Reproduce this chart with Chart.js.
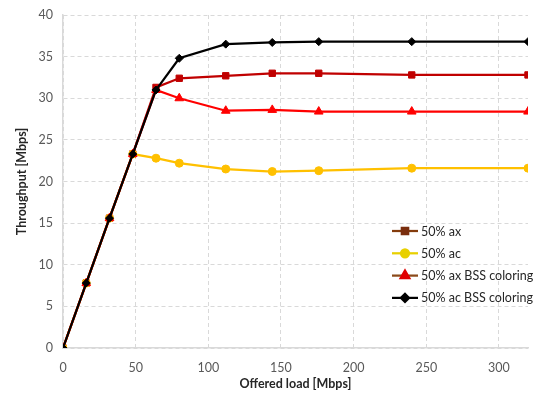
<!DOCTYPE html>
<html>
<head>
<meta charset="utf-8">
<script src="https://cdn.jsdelivr.net/npm/chart.js@4"></script>
<style>
  html, body { margin: 0; padding: 0; background: #fff; }
  #wrap { width: 550px; height: 397px; }
</style>
</head>
<body>
<div id="wrap"><canvas id="grafico"></canvas></div>
<script>
// dados
const cargaOferecida = [0, 16, 32, 48, 64, 80, 112, 144, 176, 240, 320];
const ax50 = [0, 7.8, 15.6, 23.3, 31.3, 32.4, 32.7, 33.0, 33.0, 32.8, 32.8];
const ac50 = [0, 7.8, 15.6, 23.3, 22.8, 22.2, 21.5, 21.2, 21.3, 21.6, 21.6];
const axBss50 = [0, 7.8, 15.6, 23.3, 31.0, 30.0, 28.5, 28.6, 28.4, 28.4, 28.4];
const acBss50 = [0, 7.8, 15.6, 23.3, 31.0, 34.8, 36.5, 36.7, 36.8, 36.8, 36.8];
const nomesSeries = ["50% ax", "50% ac", "50% ax BSS coloring", "50% ac BSS coloring"];
const ticksX = [0, 50, 100, 150, 200, 250, 300];

const FONTE = "Lato, 'Open Sans', sans-serif";

function pontos(ys) {
  return cargaOferecida.map((x, i) => ({ x: x, y: ys[i] }));
}

const series = [
  { label: nomesSeries[0], data: pontos(ax50), cor: "#C00000", corLegenda: "#843C0C", corMarcaLeg: "#7A2E0E", ponto: "rect", raio: 4.5, ordem: 3 },
  { label: nomesSeries[1], data: pontos(ac50), cor: "#FFC000", corLegenda: "#E8D000", corMarcaLeg: "#E8D000", ponto: "circle", raio: 4, ordem: 2 },
  { label: nomesSeries[2], data: pontos(axBss50), cor: "#FF0000", corLegenda: "#8B4A1A", corMarcaLeg: "#E00000", ponto: "triangle", raio: 5, ordem: 1 },
  { label: nomesSeries[3], data: pontos(acBss50), cor: "#000000", corLegenda: "#000000", corMarcaLeg: "#000000", ponto: "rectRot", raio: 4, ordem: 0 }
];

// legenda desenhada à mão: linha + marcador
const legendaManual = {
  id: "legendaManual",
  afterDraw(chart) {
    const ctx = chart.ctx;
    const x0 = 392, x1 = 418, y0 = 231, passo = 22.3;
    ctx.save();
    series.forEach((s, i) => {
      const y = y0 + i * passo;
      ctx.strokeStyle = s.corLegenda;
      ctx.lineWidth = 2.25;
      ctx.beginPath();
      ctx.moveTo(x0, y);
      ctx.lineTo(x1, y);
      ctx.stroke();
      ctx.fillStyle = s.corMarcaLeg;
      ctx.strokeStyle = s.corMarcaLeg;
      Chart.helpers.drawPoint(ctx, { pointStyle: s.ponto, radius: s.raio, borderWidth: 1 }, (x0 + x1) / 2, y);
      ctx.fillStyle = "#262626";
      ctx.font = "12.5px " + FONTE;
      ctx.textBaseline = "middle";
      ctx.fillText(s.label, 421, y + 0.5);
    });
    ctx.restore();
  }
};

const ctx = document.getElementById("grafico").getContext("2d");
new Chart(ctx, {
  type: "line",
  data: {
    datasets: series.map(s => ({
      label: s.label,
      data: s.data,
      borderColor: s.cor,
      backgroundColor: s.cor,
      pointStyle: s.ponto,
      pointRadius: s.raio,
      pointBorderWidth: 1,
      borderWidth: 2.25,
      tension: 0,
      fill: false,
      order: s.ordem
    }))
  },
  options: {
    responsive: true,
    maintainAspectRatio: false,
    animation: false,
    layout: { padding: { top: 15, right: 22, left: 14, bottom: 6 } },
    plugins: {
      legend: { display: false },
      tooltip: { enabled: false }
    },
    scales: {
      x: {
        type: "linear",
        min: 0,
        max: 320,
        afterBuildTicks: (s) => { s.ticks = ticksX.map(v => ({ value: v })); },
        afterFit: (s) => { s.height = 43; },
        ticks: { color: "#595959", font: { family: FONTE, size: 12.5 }, padding: 12, maxRotation: 0 },
        grid: { color: "#D9D9D9", lineWidth: 1, drawTicks: false, tickLength: 0 },
        border: { color: "#D9D9D9", width: 1.5, dash: [4, 3] },
        title: { display: true, text: "Offered load [Mbps]", color: "#262626", font: { family: FONTE, size: 12.5, weight: "bold" }, padding: { top: 1, bottom: 0 } }
      },
      y: {
        min: 0,
        max: 40,
        ticks: { stepSize: 5, color: "#595959", font: { family: FONTE, size: 12.5, lineHeight: 1 }, padding: 10 },
        afterFit: (s) => { s.width = 49; s.paddingTop = 0; s.paddingBottom = 0; },
        grid: { color: "#D9D9D9", lineWidth: 1, drawTicks: false, tickLength: 0 },
        border: { color: "#D9D9D9", width: 1.5, dash: [4, 3] },
        title: { display: true, text: "Throughput [Mbps]", color: "#262626", font: { family: FONTE, size: 12.5, weight: "bold" }, padding: { top: 0, bottom: 0 } }
      }
    }
  },
  plugins: [legendaManual]
});
</script>
</body>
</html>
